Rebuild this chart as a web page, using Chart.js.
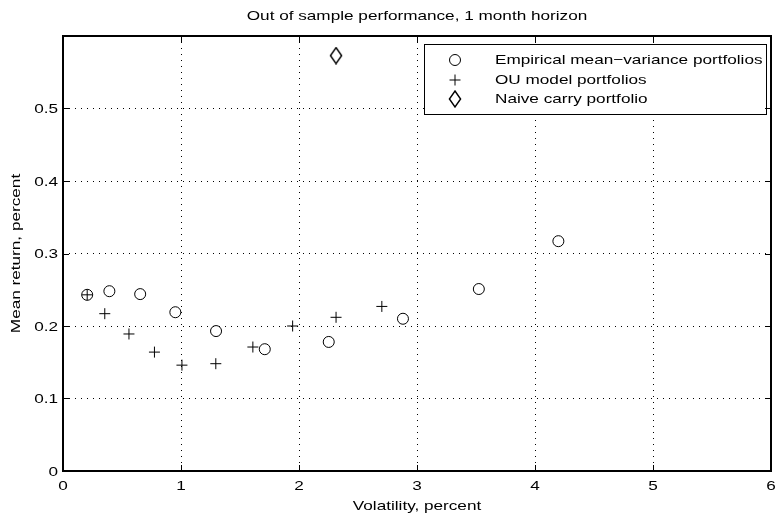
<!DOCTYPE html>
<html>
<head>
<meta charset="utf-8">
<script src="https://cdn.jsdelivr.net/npm/chart.js@4.4.0/dist/chart.umd.min.js"></script>
<style>
  html, body { margin: 0; padding: 0; background: #fff; }
  #wrap { width: 780px; height: 517px; }
</style>
</head>
<body>
<div id="wrap"><canvas id="chart"></canvas></div>
<script>
// values
const empiricalVol = [0.205, 0.393, 0.654, 0.952, 1.297, 1.710, 2.252, 2.881, 3.524, 4.198];
const empiricalRet = [0.243, 0.248, 0.244, 0.219, 0.193, 0.168, 0.178, 0.210, 0.251, 0.317];
const ouVol = [0.205, 0.354, 0.559, 0.775, 1.008, 1.295, 1.609, 1.946, 2.314, 2.702];
const ouRet = [0.243, 0.217, 0.189, 0.164, 0.146, 0.148, 0.171, 0.200, 0.212, 0.227];
const carryVol = [2.314];
const carryRet = [0.573];

const seriesNames = ['Empirical mean\u2212variance portfolios', 'OU model portfolios', 'Naive carry portfolio'];
const xTicks = [0, 1, 2, 3, 4, 5, 6];
const xTickLabels = ['0', '1', '2', '3', '4', '5', '6'];
const yTicks = [0, 0.1, 0.2, 0.3, 0.4, 0.5];
const yTickLabels = ['0', '0.1', '0.2', '0.3', '0.4', '0.5'];
const chartTitle = 'Out of sample performance, 1 month horizon';
const xTitle = 'Volatility, percent';
const yTitle = 'Mean return, percent';

const FONT = '13px "Liberation Sans", Arial, Helvetica, sans-serif';
const STRETCH = 1.32; // the reference text is drawn wide

const toPoints = (xs, ys) => xs.map((x, i) => ({ x, y: ys[i] }));

// tall diamond marker
function makeDiamond() {
  const c = document.createElement('canvas');
  c.width = 14;
  c.height = 18;
  const g = c.getContext('2d');
  g.strokeStyle = '#000';
  g.lineWidth = 1.4;
  g.beginPath();
  g.moveTo(7, 1);
  g.lineTo(12.6, 9);
  g.lineTo(7, 17);
  g.lineTo(1.4, 9);
  g.closePath();
  g.stroke();
  return c;
}
const diamond = makeDiamond();

function wideText(ctx, text, x, y, align, baseline, angle) {
  ctx.save();
  ctx.translate(x, y);
  if (angle) ctx.rotate(angle);
  ctx.scale(STRETCH, 1);
  ctx.font = FONT;
  ctx.fillStyle = '#000';
  ctx.textAlign = align;
  ctx.textBaseline = baseline;
  ctx.fillText(text, 0, 0);
  ctx.restore();
}

function drawMarker(ctx, style, x, y) {
  ctx.save();
  ctx.strokeStyle = '#000';
  ctx.lineWidth = 1;
  ctx.beginPath();
  if (style === 'circle') {
    ctx.arc(x, y, 5.5, 0, Math.PI * 2);
    ctx.stroke();
  } else if (style === 'cross') {
    ctx.moveTo(x - 5.5, y);
    ctx.lineTo(x + 5.5, y);
    ctx.moveTo(x, y - 5.5);
    ctx.lineTo(x, y + 5.5);
    ctx.stroke();
  } else {
    ctx.drawImage(style, x - style.width / 2, y - style.height / 2);
  }
  ctx.restore();
}

const frame = {
  id: 'frame',
  afterDraw(chart) {
    const { ctx, chartArea: a, scales } = chart;
    const xs = scales.x;
    const ys = scales.y;

    // legend box
    const lx = 424, ly = 44, lw = 342, lh = 70;
    ctx.save();
    ctx.fillStyle = '#fff';
    ctx.fillRect(lx, ly, lw, lh);
    ctx.strokeStyle = '#000';
    ctx.lineWidth = 1;
    ctx.strokeRect(lx + 0.5, ly + 0.5, lw, lh);
    ctx.restore();
    const rows = [60, 80, 99];
    chart.data.datasets.forEach((ds, i) => {
      drawMarker(ctx, ds.pointStyle, 455, rows[i]);
      wideText(ctx, ds.label, 495, rows[i] + 0.5, 'left', 'middle');
    });

    // inward tick marks
    ctx.save();
    ctx.strokeStyle = '#000';
    ctx.lineWidth = 1;
    ctx.beginPath();
    xTicks.forEach(v => {
      const px = Math.round(xs.getPixelForValue(v)) + 0.5;
      ctx.moveTo(px, a.bottom);
      ctx.lineTo(px, a.bottom - 6);
      ctx.moveTo(px, a.top);
      ctx.lineTo(px, a.top + 6);
    });
    yTicks.forEach(v => {
      const py = Math.round(ys.getPixelForValue(v)) + 0.5;
      ctx.moveTo(a.left, py);
      ctx.lineTo(a.left + 6, py);
      ctx.moveTo(a.right, py);
      ctx.lineTo(a.right - 6, py);
    });
    ctx.stroke();

    // axes box
    ctx.lineWidth = 2;
    ctx.strokeRect(a.left, a.top, a.right - a.left, a.bottom - a.top);
    ctx.restore();

    // tick labels
    xTicks.forEach((v, i) => {
      wideText(ctx, xTickLabels[i], xs.getPixelForValue(v), 486, 'center', 'middle');
    });
    yTicks.forEach((v, i) => {
      wideText(ctx, yTickLabels[i], 58, ys.getPixelForValue(v) + 1, 'right', 'middle');
    });

    // titles
    const cx = (a.left + a.right) / 2;
    const cy = (a.top + a.bottom) / 2;
    wideText(ctx, chartTitle, cx, 16.5, 'center', 'middle');
    wideText(ctx, xTitle, cx, 506, 'center', 'middle');
    wideText(ctx, yTitle, 16.5, cy, 'center', 'middle', -Math.PI / 2);
  }
};

const axisGrid = { color: '#000', lineWidth: 1, drawTicks: false };
const axisBorder = { display: false, dash: [1, 5] };

new Chart(document.getElementById('chart'), {
  type: 'scatter',
  data: {
    datasets: [
      {
        label: seriesNames[0],
        data: toPoints(empiricalVol, empiricalRet),
        pointStyle: 'circle',
        pointRadius: 5.5,
        pointBorderWidth: 1,
        borderColor: '#000',
        backgroundColor: 'rgba(0,0,0,0)',
      },
      {
        label: seriesNames[1],
        data: toPoints(ouVol, ouRet),
        pointStyle: 'cross',
        pointRadius: 5.5,
        pointBorderWidth: 1,
        borderColor: '#000',
        backgroundColor: 'rgba(0,0,0,0)',
      },
      {
        label: seriesNames[2],
        data: toPoints(carryVol, carryRet),
        pointStyle: diamond,
        pointRadius: 8,
        borderColor: '#000',
        backgroundColor: 'rgba(0,0,0,0)',
      },
    ],
  },
  options: {
    responsive: true,
    maintainAspectRatio: false,
    animation: false,
    events: [],
    layout: { padding: { top: 36, right: 5, left: 0, bottom: 0 } },
    plugins: {
      legend: { display: false },
      tooltip: { enabled: false },
      title: { display: false },
    },
    scales: {
      x: {
        type: 'linear',
        min: 0,
        max: 6,
        ticks: { stepSize: 1, display: false },
        grid: axisGrid,
        border: axisBorder,
        afterFit(scale) { scale.height = 46; },
      },
      y: {
        type: 'linear',
        min: 0,
        max: 0.6,
        ticks: { stepSize: 0.1, display: false },
        grid: axisGrid,
        border: axisBorder,
        afterFit(scale) { scale.width = 63; },
      },
    },
  },
  plugins: [frame],
});
</script>
</body>
</html>
